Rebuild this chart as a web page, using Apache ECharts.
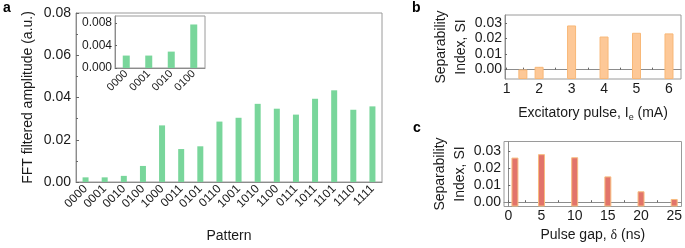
<!DOCTYPE html>
<html>
<head>
<meta charset="utf-8">
<script src="https://cdn.jsdelivr.net/npm/echarts@6/dist/echarts.min.js"></script>
<style>
html,body{margin:0;padding:0;background:#fff;}
#container1{width:685px;height:248px;}
</style>
</head>
<body>
<div id="container1"></div>
<script>
// panel a: FFT filtered amplitude per pattern
var patterns = ['0000','0001','0010','0100','1000','0011','0101','0110','1001','1010','1100','0111','1011','1101','1110','1111'];
var amplitude = [0.0022,0.0022,0.0029,0.0076,0.0268,0.0156,0.0169,0.0286,0.0304,0.0370,0.0347,0.0319,0.0394,0.0434,0.0342,0.0358];
var insetPatterns = ['0000','0001','0010','0100'];
var insetAmplitude = [0.0022,0.0022,0.0029,0.0077];
var ticksA = [0,0.02,0.04,0.06,0.08];
var ticksInset = [0,0.004,0.008];
// panel b: separability vs excitatory pulse
var pulseCurrent = [1.5,2,3,4,5,6];
var siCurrent = [0.0001,0.0018,0.0283,0.0212,0.0236,0.0232];
var ticksCurrent = [1,2,3,4,5,6];
// panel c: separability vs pulse gap
var pulseGap = [1,5,10,15,20,25];
var siGap = [0.0261,0.0281,0.0263,0.0151,0.0064,0.0019];
var ticksGap = [0,5,10,15,20,25];
var ticksSI = [0,0.01,0.02,0.03];

var font = 'Arial, "Liberation Sans", sans-serif';
var txt = '#1a1a1a';
var axisGray = '#8c8c8c';

function pairs(xs, ys){
	var out = [];
	for (var i = 0; i < xs.length; i++) out.push([xs[i], ys[i]]);
	return out;
}
function halfSteps(arr){
	var out = [];
	for (var i = 0; i < arr.length; i++) {
		out.push(arr[i]);
		if (i < arr.length - 1) out.push((arr[i] + arr[i+1]) / 2);
	}
	return out;
}

var dom = document.getElementById("container1");
var myChart = echarts.init(dom);
var option = {
	animation: false,
	textStyle: {fontFamily: font},
	grid: [
		{left: 76, top: 13, width: 306, height: 170, show: true, borderColor: '#9a9a9a', borderWidth: 1, backgroundColor: 'transparent'},
		{left: 115, top: 16, width: 90, height: 52, show: true, borderColor: '#9a9a9a', borderWidth: 1, backgroundColor: 'transparent'},
		{left: 505, top: 15, width: 176, height: 64, show: true, borderColor: '#9a9a9a', borderWidth: 1, backgroundColor: 'transparent'},
		{left: 504, top: 141.5, width: 178, height: 65, show: true, borderColor: '#9a9a9a', borderWidth: 1, backgroundColor: 'transparent'}
	],
	graphic: [
		{type: 'text', left: 3, top: 1, style: {text: 'a', font: 'bold 14px ' + font, fill: '#000'}},
		{type: 'text', left: 412, top: 1, style: {text: 'b', font: 'bold 14px ' + font, fill: '#000'}},
		{type: 'text', left: 413, top: 121, style: {text: 'c', font: 'bold 14px ' + font, fill: '#000'}}
	],
	xAxis: [
		{
			gridIndex: 0, type: 'category', data: patterns,
			name: 'Pattern', nameLocation: 'middle', nameGap: 47,
			nameTextStyle: {fontSize: 14, color: txt},
			axisLine: {lineStyle: {color: axisGray}},
			axisTick: {inside: true, alignWithLabel: true, length: 3, lineStyle: {color: '#555'}},
			axisLabel: {rotate: 45, fontSize: 12, color: txt, margin: 5, interval: 0},
			splitLine: {show: false}
		},
		{
			gridIndex: 1, type: 'category', data: insetPatterns,
			axisLine: {lineStyle: {color: axisGray}},
			axisTick: {inside: true, alignWithLabel: true, length: 2, lineStyle: {color: '#555'}},
			axisLabel: {rotate: 45, fontSize: 11, color: txt, margin: 4, interval: 0},
			splitLine: {show: false}
		},
		{
			gridIndex: 2, type: 'value', min: 0.95, max: 6.37,
			name: 'Excitatory pulse, I{sub|e} (mA)', nameLocation: 'middle', nameGap: 25,
			nameTextStyle: {fontSize: 14, color: txt, rich: {sub: {fontSize: 9, color: txt, padding: [9, 0, 0, 0]}}},
			axisLine: {lineStyle: {color: axisGray}},
			axisTick: {inside: true, length: 2, customValues: halfSteps(ticksCurrent), lineStyle: {color: '#666'}},
			axisLabel: {customValues: ticksCurrent, fontSize: 14, color: txt, margin: 3},
			splitLine: {show: false}
		},
		{
			gridIndex: 3, type: 'value', min: -0.65, max: 26.1,
			name: 'Pulse gap, {g|δ} (ns)', nameLocation: 'middle', nameGap: 22,
			nameTextStyle: {fontSize: 14, color: txt, rich: {g: {fontSize: 14, color: txt, fontFamily: '"Liberation Serif", serif'}}},
			axisLine: {lineStyle: {color: axisGray}},
			axisTick: {inside: true, length: 2, customValues: halfSteps(ticksGap), lineStyle: {color: '#666'}},
			axisLabel: {customValues: ticksGap, fontSize: 14, color: txt, margin: 3},
			splitLine: {show: false}
		}
	],
	yAxis: [
		{
			gridIndex: 0, type: 'value', min: 0, max: 0.08, interval: 0.02,
			name: 'FFT filtered amplitude (a.u.)', nameLocation: 'middle', nameRotate: 90, nameGap: 41,
			nameTextStyle: {fontSize: 14, color: txt},
			axisLine: {show: true, lineStyle: {color: axisGray}},
			axisTick: {show: true, inside: true, length: 3, lineStyle: {color: '#666'}},
			minorTick: {show: true, splitNumber: 2, length: 2, lineStyle: {color: '#666'}},
			axisLabel: {fontSize: 14, color: txt, margin: 5, formatter: function(v){ return v.toFixed(2); }},
			splitLine: {show: false}
		},
		{
			gridIndex: 1, type: 'value', min: 0, max: 0.0092,
			axisLine: {show: true, lineStyle: {color: axisGray}},
			axisTick: {show: true, inside: true, length: 2, customValues: ticksInset, lineStyle: {color: '#666'}},
			axisLabel: {customValues: ticksInset, fontSize: 12, color: txt, margin: 3, formatter: function(v){ return v.toFixed(3); }},
			splitLine: {show: false}
		},
		{
			gridIndex: 2, type: 'value', min: -0.006, max: 0.035, startValue: -0.006,
			name: 'Separability\nIndex, SI', nameLocation: 'middle', nameRotate: 90, nameGap: 29,
			nameTextStyle: {fontSize: 14, color: txt, lineHeight: 20},
			axisLine: {show: true, lineStyle: {color: axisGray}},
			axisTick: {show: true, inside: true, length: 2, customValues: ticksSI, lineStyle: {color: '#666'}},
			axisLabel: {customValues: ticksSI, fontSize: 14, color: txt, margin: 3, formatter: function(v){ return v.toFixed(2); }},
			splitLine: {show: false}
		},
		{
			gridIndex: 3, type: 'value', min: -0.0025, max: 0.0355, startValue: -0.0025,
			name: 'Separability\nIndex, SI', nameLocation: 'middle', nameRotate: 90, nameGap: 29,
			nameTextStyle: {fontSize: 14, color: txt, lineHeight: 20},
			axisLine: {show: true, lineStyle: {color: axisGray}},
			axisTick: {show: true, inside: true, length: 2, customValues: ticksSI, lineStyle: {color: '#666'}},
			axisLabel: {customValues: ticksSI, fontSize: 14, color: txt, margin: 3, formatter: function(v){ return v.toFixed(2); }},
			splitLine: {show: false}
		}
	],
	series: [
		{
			name: 'amplitude', type: 'bar', xAxisIndex: 0, yAxisIndex: 0,
			data: amplitude, barWidth: 6,
			itemStyle: {color: '#79d69b'}
		},
		{
			name: 'inset', type: 'bar', xAxisIndex: 1, yAxisIndex: 1,
			data: insetAmplitude, barWidth: 7,
			itemStyle: {color: '#79d69b'}
		},
		{
			name: 'current', type: 'bar', xAxisIndex: 2, yAxisIndex: 2,
			data: pairs(pulseCurrent, siCurrent), barWidth: 9,
			itemStyle: {color: '#fdc897', borderColor: '#f8b878', borderWidth: 1}
		},
		{
			name: 'gap', type: 'bar', xAxisIndex: 3, yAxisIndex: 3,
			data: pairs(pulseGap, siGap), barWidth: 7,
			itemStyle: {color: '#e2746a', borderColor: '#f7bd80', borderWidth: 1}
		}
	]
};
myChart.setOption(option, true);
</script>
</body>
</html>
